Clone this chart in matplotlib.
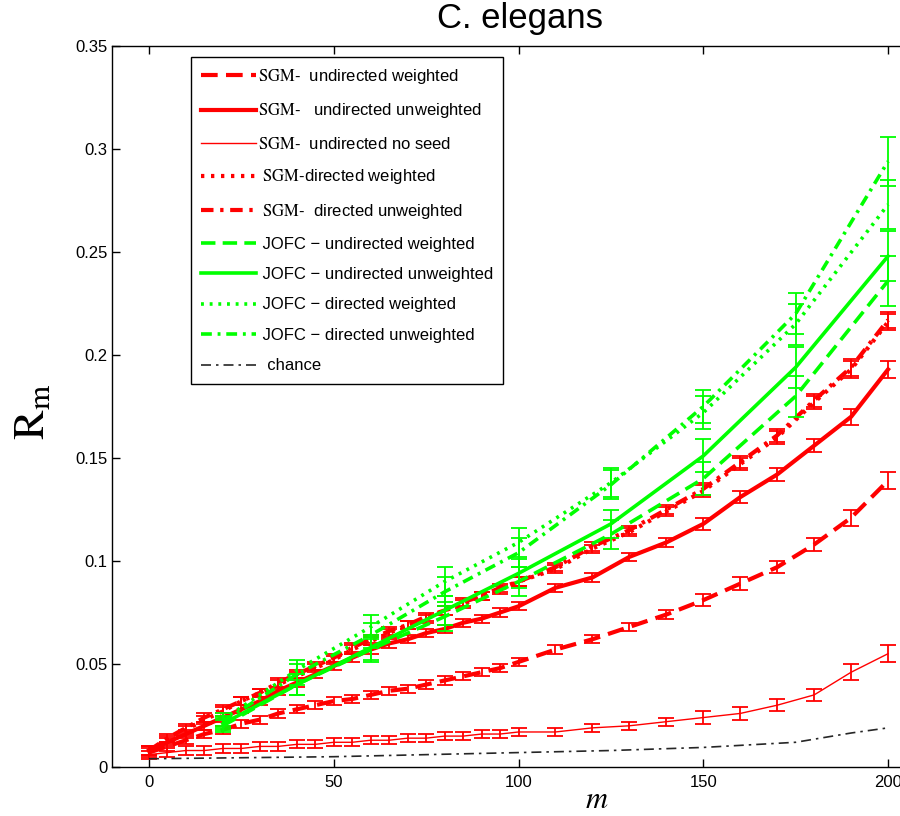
import matplotlib
matplotlib.use("Agg")
import matplotlib.pyplot as plt

plt.rcParams["font.family"] = ["Liberation Sans", "DejaVu Sans"]
plt.rcParams["mathtext.fontset"] = "stix"

# x positions
sgm_m = [0, 5, 10, 15, 20, 25, 30, 35, 40, 45, 50, 55, 60, 65, 70, 75, 80, 85, 90, 95,
         100, 110, 120, 130, 140, 150, 160, 170, 180, 190, 200]
jofc_m = [20, 40, 60, 80, 100, 125, 150, 175, 200]
chance_m = [0, 25, 50, 75, 100, 125, 150, 175, 190, 200]

# SGM curves (red)
sgm_undir_w = [0.007, 0.010, 0.013, 0.016, 0.018, 0.021, 0.023, 0.026, 0.028, 0.030,
               0.032, 0.033, 0.035, 0.037, 0.038, 0.040, 0.042, 0.044, 0.046, 0.048,
               0.051, 0.057, 0.062, 0.068, 0.074, 0.081, 0.089, 0.097, 0.108, 0.121, 0.139]
sgm_undir_uw = [0.008, 0.012, 0.016, 0.020, 0.024, 0.028, 0.032, 0.037, 0.041, 0.045,
                0.049, 0.053, 0.057, 0.060, 0.062, 0.065, 0.067, 0.070, 0.072, 0.075,
                0.078, 0.087, 0.092, 0.102, 0.109, 0.118, 0.131, 0.142, 0.156, 0.170, 0.193]
sgm_noseed = [0.006, 0.007, 0.008, 0.008, 0.009, 0.009, 0.010, 0.010, 0.011, 0.011,
              0.012, 0.012, 0.013, 0.013, 0.014, 0.014, 0.015, 0.015, 0.016, 0.016,
              0.017, 0.017, 0.019, 0.020, 0.022, 0.024, 0.026, 0.030, 0.035, 0.046, 0.055]
sgm_dir_w = [0.008, 0.013, 0.018, 0.023, 0.027, 0.032, 0.036, 0.040, 0.044, 0.048,
             0.052, 0.057, 0.061, 0.065, 0.069, 0.072, 0.076, 0.079, 0.083, 0.086,
             0.090, 0.096, 0.106, 0.114, 0.124, 0.134, 0.147, 0.160, 0.177, 0.193, 0.216]
sgm_dir_uw = [0.008, 0.014, 0.019, 0.024, 0.028, 0.032, 0.036, 0.041, 0.045, 0.049,
              0.053, 0.058, 0.062, 0.066, 0.069, 0.073, 0.076, 0.080, 0.083, 0.087,
              0.090, 0.097, 0.107, 0.115, 0.125, 0.135, 0.148, 0.161, 0.178, 0.194, 0.217]
sgm_err = [0.002, 0.002, 0.002, 0.002, 0.002, 0.002, 0.002, 0.002, 0.002, 0.002,
           0.002, 0.002, 0.002, 0.002, 0.002, 0.002, 0.002, 0.002, 0.002, 0.002,
           0.002, 0.002, 0.002, 0.002, 0.002, 0.003, 0.003, 0.003, 0.003, 0.004, 0.004]

# JOFC curves (green)
jofc_undir_w = [0.020, 0.040, 0.057, 0.073, 0.090, 0.113, 0.140, 0.180, 0.236]
jofc_undir_uw = [0.021, 0.040, 0.058, 0.076, 0.094, 0.118, 0.151, 0.194, 0.248]
jofc_dir_w = [0.023, 0.047, 0.068, 0.090, 0.109, 0.138, 0.172, 0.215, 0.273]
jofc_dir_uw = [0.022, 0.045, 0.064, 0.085, 0.104, 0.137, 0.175, 0.220, 0.294]
jofc_err = [0.003, 0.005, 0.006, 0.007, 0.007, 0.007, 0.008, 0.010, 0.012]

chance = [0.004, 0.0045, 0.005, 0.006, 0.007, 0.008, 0.0095, 0.012, 0.0165, 0.019]

red = (1, 0, 0)
green = (0, 1, 0)
dashed = (0, (4, 2))
dashdot = (0, (3, 1.6, 0.8, 1.6))
dotted = (0, (0.8, 1.6))

series = [
    (sgm_m, sgm_undir_w, sgm_err, red, dashed, 3, r"$\mathrm{SGM}$-  undirected weighted"),
    (sgm_m, sgm_undir_uw, sgm_err, red, "-", 3, r"$\mathrm{SGM}$-   undirected unweighted"),
    (sgm_m, sgm_noseed, sgm_err, red, "-", 1, r"$\mathrm{SGM}$-  undirected no seed"),
    (sgm_m, sgm_dir_w, sgm_err, red, dotted, 3, r" $\mathrm{SGM}$-directed weighted"),
    (sgm_m, sgm_dir_uw, sgm_err, red, dashdot, 3, r" $\mathrm{SGM}$-  directed unweighted"),
    (jofc_m, jofc_undir_w, jofc_err, green, dashed, 2.6, " JOFC \u2212 undirected weighted"),
    (jofc_m, jofc_undir_uw, jofc_err, green, "-", 2.6, " JOFC \u2212 undirected unweighted"),
    (jofc_m, jofc_dir_w, jofc_err, green, dotted, 2.6, " JOFC \u2212 directed weighted"),
    (jofc_m, jofc_dir_uw, jofc_err, green, dashdot, 2.6, " JOFC \u2212 directed unweighted"),
]

fig = plt.figure(figsize=(9, 8.16), dpi=100)
ax = fig.add_axes([112 / 900, 1 - 767 / 816, (925 - 112) / 900, (767 - 46) / 816])

for x, y, err, col, ls, lw, lab in series:
    ax.plot(x, y, color=col, linestyle=ls, linewidth=lw, label=lab)
    ax.errorbar(x, y, yerr=err, fmt="none", ecolor=col, elinewidth=1.3,
                capsize=6, capthick=1.3)

ax.plot(chance_m, chance, color="0.15", linestyle=(0, (6, 3, 1.5, 3)),
        linewidth=1.2, label="  chance")

ax.set_xlim(-10, 210)
ax.set_ylim(0, 0.35)
ax.set_xticks([0, 50, 100, 150, 200])
ax.set_yticks([0, 0.05, 0.1, 0.15, 0.2, 0.25, 0.3, 0.35])
ax.set_yticklabels(["0", "0.05", "0.1", "0.15", "0.2", "0.25", "0.3", "0.35"])
ax.tick_params(direction="in", top=True, right=True, length=6, width=1, labelsize=12)
ax.tick_params(axis="x", pad=6)
ax.tick_params(axis="y", pad=3)
for s in ax.spines.values():
    s.set_linewidth(1)

fig.text(520 / 900, 1 - 28 / 816, "C. elegans", ha="center", va="baseline", fontsize=25)
fig.text(597 / 900, 1 - 800 / 816, "$m$", ha="center", va="center", fontsize=22)
fig.text(32 / 900, 1 - 412 / 816, r"$\mathrm{R_m}$", ha="center", va="center",
         rotation=90, fontsize=32)

leg = ax.legend(loc="upper left", bbox_to_anchor=(191 / 900, 1 - 57 / 816),
                bbox_transform=fig.transFigure, borderaxespad=0, fontsize=12,
                handlelength=3.3, handletextpad=0.1, labelspacing=0.93,
                fancybox=False, framealpha=1, edgecolor="black", borderpad=0.6)
leg.get_frame().set_linewidth(1)

fig.savefig("out.png", dpi=100)
